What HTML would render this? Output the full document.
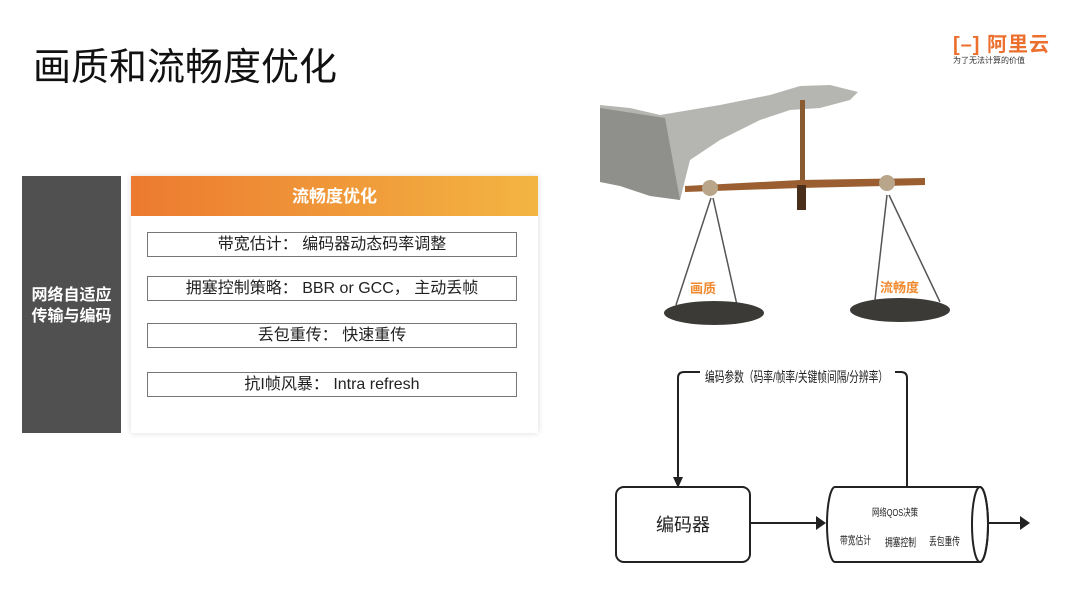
<!DOCTYPE html>
<html><head><meta charset="utf-8"><style>
body{margin:0;width:1080px;height:607px;background:#fff;position:relative;overflow:hidden;font-family:"Liberation Sans","Noto Sans CJK SC",sans-serif;}
.a{position:absolute}
.item{position:absolute;left:147px;width:370px;height:25px;border:1px solid #777;box-sizing:border-box;text-align:center;font-size:16px;line-height:24px;color:#222;}
</style></head><body>
<div class="a" style="left:33px;top:36px;font-size:38px;color:#111;">画质和流畅度优化</div>
<div class="a" style="left:953px;top:28px;font-size:20px;color:#ec6f2d;font-weight:bold;letter-spacing:1px;">&#91;&#8211;&#93; 阿里云</div>
<div class="a" style="left:953px;top:55px;font-size:8px;color:#333;">为了无法计算的价值</div>

<div class="a" style="left:22px;top:176px;width:99px;height:257px;background:#505050;"></div>
<div class="a" style="left:22px;top:285px;width:99px;text-align:center;color:#fff;font-weight:bold;font-size:16px;line-height:21px;">网络自适应<br>传输与编码</div>
<div class="a" style="left:131px;top:176px;width:407px;height:257px;background:#fff;box-shadow:0 0 6px rgba(0,0,0,0.15);"></div>
<div class="a" style="left:131px;top:176px;width:407px;height:40px;background:linear-gradient(90deg,#ec7a30,#f3b542);color:#fff;font-weight:bold;font-size:17px;text-align:center;line-height:42px;">流畅度优化</div>
<div class="item" style="top:232px;">带宽估计： 编码器动态码率调整</div>
<div class="item" style="top:276px;">拥塞控制策略： BBR or GCC， 主动丢帧</div>
<div class="item" style="top:323px;">丢包重传： 快速重传</div>
<div class="item" style="top:372px;">抗I帧风暴： Intra refresh</div>

<svg class="a" style="left:0;top:0" width="1080" height="607">
<!-- arm -->
<path d="M600 105 L630 108 L660 115 L720 105 L770 95 L800 86 L830 85 L858 92 L850 100 L820 108 L790 110 L760 120 L720 140 L690 160 L680 200 L650 195 L620 185 L600 182 Z" fill="#b5b6b1"/>
<path d="M600 108 L665 118 L680 200 L650 196 L620 186 L600 182 Z" fill="#8f908b"/>
<!-- rod & beam -->
<rect x="800" y="100" width="5" height="110" fill="#8a5a30"/>
<path d="M685 186 L800 180 L925 178 L925 185 L800 188 L685 192 Z" fill="#9b5e30"/>
<rect x="797" y="185" width="9" height="25" fill="#4a2e1c"/>
<circle cx="710" cy="188" r="8" fill="#b9a58a"/><circle cx="887" cy="183" r="8" fill="#b9a58a"/>
<!-- strings -->
<g stroke="#555" stroke-width="1.5"><line x1="711" y1="198" x2="676" y2="305"/><line x1="713" y1="198" x2="737" y2="305"/>
<line x1="887" y1="195" x2="875" y2="300"/><line x1="889" y1="195" x2="940" y2="302"/></g>
<ellipse cx="714" cy="313" rx="50" ry="12" fill="#3b3a36"/>
<ellipse cx="900" cy="310" rx="50" ry="12" fill="#3b3a36"/>
<text x="690" y="293" font-size="13" fill="#f08a30" font-weight="bold" font-family="Liberation Sans,Noto Sans CJK SC,sans-serif">画质</text>
<text x="880" y="292" font-size="13" fill="#f08a30" font-weight="bold" font-family="Liberation Sans,Noto Sans CJK SC,sans-serif">流畅度</text>
<!-- diagram -->
<g stroke="#222" stroke-width="2" fill="none">
<rect x="616" y="487" width="134" height="75" rx="8" fill="#fff"/>
<path d="M835 487 L980 487 A8 37.5 0 0 1 980 562 L835 562 A8 37.5 0 0 1 835 487 Z" fill="#fff"/>
<ellipse cx="980" cy="524.5" rx="8" ry="37.5"/>
<line x1="750" y1="523" x2="818" y2="523"/>
<line x1="988" y1="523" x2="1020" y2="523"/>
<path d="M907 487 L907 378 Q907 372 901 372 L895 372"/>
<path d="M700 372 L684 372 Q678 372 678 378 L678 480"/>
</g>
<rect x="702" y="364" width="191" height="20" fill="#fff"/>
<g fill="#222"><path d="M826 523 L816 516 L816 530 Z"/><path d="M1030 523 L1020 516 L1020 530 Z"/><path d="M678 488 L673 477 L683 477 Z"/></g>
<g font-family="Liberation Sans,Noto Sans CJK SC,sans-serif" fill="#222">
<text x="705" y="382" font-size="14" textLength="183" lengthAdjust="spacingAndGlyphs">编码参数（码率/帧率/关键帧间隔/分辨率）</text>
<text x="683" y="531" font-size="18" text-anchor="middle">编码器</text>
<text x="872" y="516" font-size="10" textLength="46" lengthAdjust="spacingAndGlyphs">网络QOS决策</text>
<text x="840" y="544" font-size="11" textLength="31" lengthAdjust="spacingAndGlyphs">带宽估计</text>
<text x="885" y="546" font-size="11" textLength="31" lengthAdjust="spacingAndGlyphs">拥塞控制</text>
<text x="929" y="545" font-size="11" textLength="31" lengthAdjust="spacingAndGlyphs">丢包重传</text>
</g>
</svg>
</body></html>
